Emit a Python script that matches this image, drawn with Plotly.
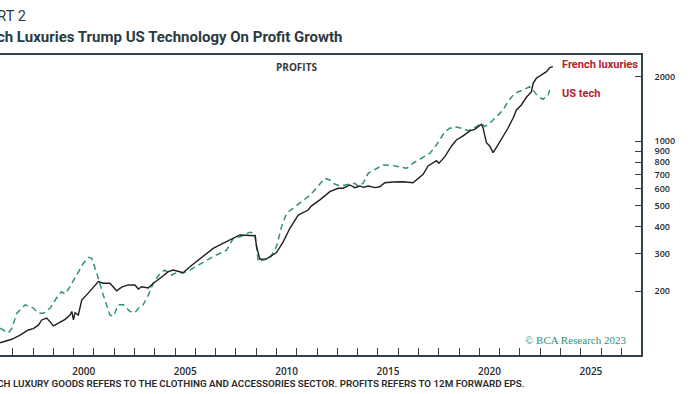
import plotly.graph_objects as go

# French luxuries (solid) - decimal years and profit index values
fr_years = [1996.37, 1996.95, 1997.36, 1997.77, 1998.01, 1998.26, 1998.43, 1998.67, 1998.84, 1999.00,
            1999.25, 1999.58, 1999.82, 1999.91, 1999.99, 2000.07, 2000.23, 2000.40, 2000.72, 2001.05,
            2001.22, 2001.46, 2001.79, 2002.12, 2002.37, 2002.69, 2003.02, 2003.19, 2003.35, 2003.68,
            2003.93, 2004.26, 2004.67, 2004.91, 2005.16, 2005.40, 2005.73, 2006.06, 2006.23, 2006.88,
            2007.21, 2007.87, 2008.20, 2008.94, 2009.02, 2009.18, 2009.51, 2010.00, 2010.33, 2010.66,
            2011.07, 2011.56, 2011.73, 2012.14, 2012.63, 2013.04, 2013.29, 2013.62, 2013.86, 2014.11,
            2014.27, 2014.52, 2014.85, 2015.09, 2015.34, 2015.75, 2016.24, 2016.73, 2017.06, 2017.23,
            2017.47, 2017.72, 2017.89, 2018.01, 2018.30, 2018.63, 2018.87, 2019.20, 2019.53, 2019.77,
            2020.10, 2020.18, 2020.35, 2020.51, 2020.68, 2020.92, 2021.17, 2021.41, 2021.66, 2021.83,
            2022.07, 2022.32, 2022.57, 2022.65, 2022.81, 2023.06, 2023.31, 2023.47, 2023.63]
fr_values = [115, 119.5, 125, 132, 134, 139, 147, 150, 144, 138,
             142, 148, 155, 161, 147, 159, 155, 182, 196, 214,
             222, 218, 218, 201, 209, 214, 214, 205, 210, 207,
             218, 230, 247, 251, 247, 244, 260, 275, 283, 317,
             329, 353, 366, 363, 323, 282, 283, 303, 340, 393,
             453, 478, 500, 533, 582, 604, 604, 626, 608, 619,
             610, 619, 608, 614, 641, 646, 648, 641, 684, 702,
             767, 795, 812, 790, 848, 951, 1014, 1059, 1117, 1137,
             1200, 1157, 985, 951, 885, 961, 1051, 1150, 1280, 1399,
             1476, 1603, 1702, 1863, 1966, 2037, 2110, 2203, 2227]

# US tech (dashed)
us_years = [1996.37, 1996.62, 1996.78, 1996.95, 1997.20, 1997.61, 1997.77, 1998.01, 1998.26, 1998.51,
            1998.84, 1999.25, 1999.41, 1999.58, 1999.82, 2000.15, 2000.48, 2000.72, 2000.89, 2001.14,
            2001.46, 2001.79, 2001.96, 2002.20, 2002.45, 2002.78, 2003.02, 2003.27, 2003.43, 2003.68,
            2003.93, 2004.26, 2004.50, 2004.83, 2005.08, 2005.40, 2005.73, 2006.06, 2006.23, 2006.88,
            2007.54, 2007.87, 2008.20, 2008.69, 2008.94, 2009.02, 2009.10, 2009.35, 2009.67, 2010.00,
            2010.25, 2010.50, 2010.82, 2011.15, 2011.56, 2011.81, 2012.14, 2012.38, 2012.63, 2012.79,
            2013.12, 2013.45, 2013.86, 2014.02, 2014.27, 2014.52, 2014.93, 2015.26, 2015.75, 2016.08,
            2016.41, 2016.73, 2017.15, 2017.56, 2017.80, 2018.05, 2018.30, 2018.55, 2018.79, 2019.12,
            2019.45, 2019.86, 2020.10, 2020.27, 2020.51, 2020.84, 2021.17, 2021.41, 2021.74, 2022.15,
            2022.48, 2022.65, 2022.89, 2023.14, 2023.39, 2023.47]
us_values = [134.5, 130, 128, 134, 158, 173, 171, 167, 158, 158,
             167, 192, 199, 194, 210, 238, 270, 288, 285, 243,
             192, 155, 153, 173, 173, 161, 159, 170, 173, 192,
             218, 243, 251, 238, 244, 244, 251, 262, 268, 290,
             311, 353, 359, 377, 373, 311, 275, 280, 285, 323,
             400, 462, 487, 514, 552, 582, 637, 672, 660, 637,
             619, 626, 637, 619, 637, 709, 748, 776, 770, 757,
             748, 790, 833, 879, 934, 1014, 1108, 1150, 1170, 1150,
             1121, 1170, 1213, 1170, 1213, 1302, 1399, 1529, 1674, 1734,
             1796, 1734, 1614, 1569, 1644, 1734]

x_tick_labels = ["2000", "2005", "2010", "2015", "2020", "2025"]
y_tick_values = [200, 300, 400, 500, 600, 700, 800, 900, 1000, 2000]

W, H = 700, 394
ML, MR, MT, MB = 0, 59, 55, 39
PW = W - ML - MR
PH = H - MT - MB


def px(x):
    return (x - ML) / PW


def py(y):
    return (H - MB - y) / PH


AXIS = "#33424a"
TEAL = "#2f9177"
RED = "#b3202f"
DARK = "#1f1f1f"

fig = go.Figure()
fig.add_trace(go.Scatter(x=us_years, y=us_values, mode="lines", name="US tech",
                         line=dict(color=TEAL, width=1.5, dash="6px,4px")))
fig.add_trace(go.Scatter(x=fr_years, y=fr_values, mode="lines", name="French luxuries",
                         line=dict(color=DARK, width=1.4)))

fig.update_layout(
    width=W, height=H,
    margin=dict(l=ML, r=MR, t=MT, b=MB),
    paper_bgcolor="white", plot_bgcolor="white",
    showlegend=False,
    xaxis=dict(
        range=[1996.37, 2027.97],
        showgrid=False, zeroline=False,
        showline=True, linecolor=AXIS, linewidth=1.5, mirror=True,
        tickvals=[int(t) + 0.5 for t in x_tick_labels],
        ticktext=x_tick_labels,
        ticks="",
        ticklabelstandoff=6,
        tickfont=dict(family="Open Sans", size=10, color="#2a2a2a", weight=600),
        minor=dict(tick0=1997, dtick=1, ticks="inside", ticklen=7,
                   tickcolor=AXIS, tickwidth=1, showgrid=False),
    ),
    yaxis=dict(
        type="log",
        range=[2.004, 3.402],
        side="right",
        showgrid=False, zeroline=False,
        showline=True, linecolor=AXIS, linewidth=1.5,
        tickvals=y_tick_values,
        ticktext=[str(v) for v in y_tick_values],
        ticks="inside", ticklen=6, tickcolor=AXIS, tickwidth=1,
        ticklabelstandoff=10,
        tickfont=dict(family="Open Sans", size=9, color="#2a2a2a", weight=600),
    ),
)

ann = [
    dict(text="CHART 2", x=px(28), y=py(16), xanchor="right", yanchor="middle",
         font=dict(family="Roboto", size=14.5, color="#2b3a42")),
    dict(text="<b>French Luxuries Trump US Technology On Profit Growth</b>", x=px(345), y=py(37),
         xanchor="right", yanchor="middle",
         font=dict(family="Roboto", size=15, color="#2b3a42")),
    dict(text="<b>PROFITS</b>", x=px(296), y=py(67), xanchor="center", yanchor="middle",
         font=dict(family="Open Sans", size=10, color="#3a3a3a")),
    dict(text="<b>French luxuries</b>", x=px(560), y=py(64), xanchor="left", yanchor="middle",
         font=dict(family="Roboto", size=11, color=RED)),
    dict(text="<b>US tech</b>", x=px(560), y=py(93), xanchor="left", yanchor="middle",
         font=dict(family="Roboto", size=11, color=RED)),
    dict(text="© BCA Research 2023", x=px(628), y=py(340), xanchor="right", yanchor="middle",
         font=dict(family="Liberation Serif", size=11, color=TEAL)),
    dict(text="NOTE: FRENCH LUXURY GOODS REFERS TO THE CLOTHING AND ACCESSORIES SECTOR. PROFITS REFERS TO 12M FORWARD EPS.",
         x=px(527), y=py(383), xanchor="right", yanchor="middle",
         font=dict(family="Roboto", size=9.8, color="#2a2a2a", weight=600)),
]
for a in ann:
    a.update(xref="paper", yref="paper", showarrow=False)
fig.update_layout(annotations=ann)

fig.write_html("out.html", config={"displayModeBar": False},
               post_script="document.body.style.margin='0';document.body.style.overflow='hidden';")
